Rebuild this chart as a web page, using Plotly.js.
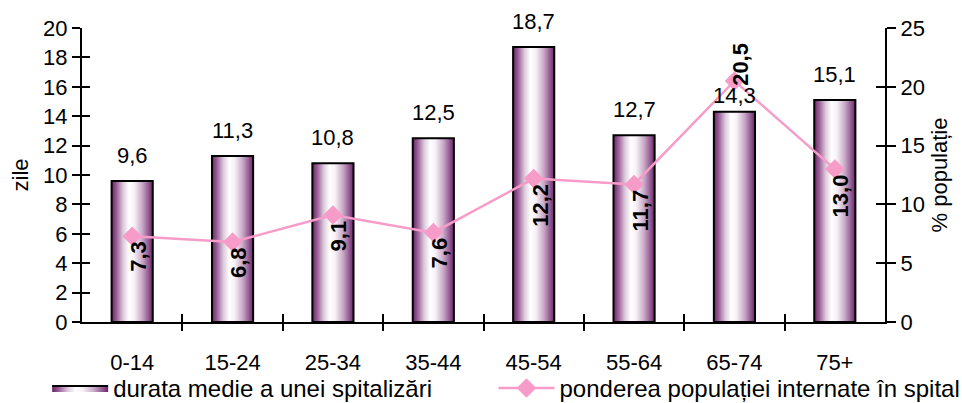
<!DOCTYPE html>
<html>
<head>
<meta charset="utf-8">
<script src="https://cdn.plot.ly/plotly-3.0.1.min.js"></script>
<style>html,body{margin:0;padding:0;background:#fff;}#chart{width:962px;height:403px;}</style>
</head>
<body>
<div id="chart"></div>
<script>
const categories = ["0-14", "15-24", "25-34", "35-44", "45-54", "55-64", "65-74", "75+"];
const durata = [9.6, 11.3, 10.8, 12.5, 18.7, 12.7, 14.3, 15.1];
const pondere = [7.3, 6.8, 9.1, 7.6, 12.2, 11.7, 20.5, 13.0];
const barName = "durata medie a unei spitalizări";
const lineName = "ponderea populației internate în spital";
const leftTicks = [0, 2, 4, 6, 8, 10, 12, 14, 16, 18, 20];
const rightTicks = [0, 5, 10, 15, 20, 25];

const FONT = "Liberation Sans, Arial, sans-serif";
const fmt = v => v.toFixed(1).replace(".", ",");
const idx = categories.map((c, i) => i);
const halfW = 0.205;
const grad = [[0, "#6b2468"], [0.12, "#9a5f97"], [0.28, "#dccbdb"], [0.42, "#ffffff"], [0.55, "#f7f1f7"], [0.75, "#c7a6c5"], [0.9, "#925890"], [1, "#6b2468"]];

const traces = [];
durata.forEach((v, i) => {
  traces.push({
    type: "scatter", mode: "lines",
    x: [i - halfW, i + halfW, i + halfW, i - halfW, i - halfW],
    y: [0, 0, v, v, 0],
    fill: "toself",
    fillgradient: {type: "horizontal", colorscale: grad, start: i - halfW, stop: i + halfW},
    line: {color: "#000", width: 2},
    name: barName, legendgroup: "bars", showlegend: i === 0, legend: "legend",
    hoverinfo: "skip", xaxis: "x", yaxis: "y"
  });
});
traces.push({
  type: "scatter", mode: "lines+markers",
  x: idx, y: pondere, yaxis: "y2", xaxis: "x",
  name: lineName, legend: "legend2",
  line: {color: "#f79cc9", width: 2.5},
  marker: {symbol: "diamond", size: 15, color: "#f79cc9"}
});

const annotations = [];
const barLabelShift = {6: -9};
durata.forEach((v, i) => {
  annotations.push({
    x: i, y: v, xref: "x", yref: "y", text: fmt(v), showarrow: false,
    yanchor: "bottom", yshift: 11 + (barLabelShift[i] || 0),
    font: {family: FONT, size: 22, color: "#000"}
  });
});
const aboveMarker = {6: true};
pondere.forEach((v, i) => {
  annotations.push({
    x: i, y: v, xref: "x", yref: "y2", text: "<b>" + fmt(v) + "</b>", showarrow: false,
    textangle: -90, yanchor: aboveMarker[i] ? "bottom" : "top",
    yshift: aboveMarker[i] ? -7 : -3, xshift: 6,
    font: {family: FONT, size: 22, color: "#000"}
  });
});

const legendCommon = {orientation: "h", xref: "container", yref: "container", y: 0.092, yanchor: "top", xanchor: "left",
  font: {family: FONT, size: 24, color: "#000"}, itemwidth: 56, bgcolor: "rgba(0,0,0,0)"};
const yCommon = {range: [0, 20], tickvals: leftTicks, showgrid: false, zeroline: false, fixedrange: true, automargin: false};
const layout = {
  width: 962, height: 403,
  margin: {l: 82, r: 77, t: 28, b: 81, autoexpand: false},
  paper_bgcolor: "#fff", plot_bgcolor: "#fff",
  font: {family: FONT, size: 22, color: "#000"},
  separators: ", ",
  showlegend: true,
  legend: Object.assign({}, legendCommon, {x: 0.049}),
  legend2: Object.assign({}, legendCommon, {x: 0.513}),
  xaxis: {range: [-0.5, 7.5], tickvals: idx, ticktext: categories, ticks: "outside", ticklen: 20,
          tickcolor: "rgba(0,0,0,0)", showline: true, linecolor: "#000", linewidth: 2, automargin: false,
          showgrid: false, zeroline: false, fixedrange: true},
  xaxis2: {overlaying: "x", anchor: "y", side: "bottom", range: [-0.5, 7.5], automargin: false,
           tickvals: idx.slice(1).map(i => i - 0.5), ticks: "outside", ticklen: 8, tickwidth: 2,
           tickcolor: "#000", showticklabels: false, showline: false, showgrid: false, zeroline: false},
  xaxis3: {overlaying: "x", anchor: "y", side: "bottom", range: [-0.5, 7.5], automargin: false,
           tickvals: idx.slice(1).map(i => i - 0.5), ticks: "inside", ticklen: 8, tickwidth: 2,
           tickcolor: "#000", showticklabels: false, showline: false, showgrid: false, zeroline: false},
  yaxis: Object.assign({}, yCommon, {ticks: "outside", ticklen: 8, tickwidth: 2, tickcolor: "#000",
          showline: true, linecolor: "#000", linewidth: 2, anchor: "x",
          title: {text: "zile", font: {family: FONT, size: 22}, standoff: 8}}),
  yaxis3: Object.assign({}, yCommon, {overlaying: "y", side: "left", anchor: "x", ticks: "inside", ticklen: 8,
          tickwidth: 2, tickcolor: "#000", showticklabels: false, showline: false}),
  yaxis2: {range: [0, 25], tickvals: rightTicks, overlaying: "y", side: "right", anchor: "x", automargin: false,
           ticks: "outside", ticklen: 9, tickwidth: 2, tickcolor: "#000",
           showline: true, linecolor: "#000", linewidth: 2, showgrid: false, zeroline: false,
           title: {text: "% populație", font: {family: FONT, size: 22}, standoff: 8}},
  yaxis4: {range: [0, 25], tickvals: rightTicks, overlaying: "y", side: "right", anchor: "x", automargin: false,
           ticks: "inside", ticklen: 9, tickwidth: 2, tickcolor: "#000", showticklabels: false,
           showline: false, showgrid: false, zeroline: false},
  annotations: annotations
};
traces.push({type: "scatter", x: [null], y: [null], xaxis: "x2", yaxis: "y3", showlegend: false, hoverinfo: "skip"});
traces.push({type: "scatter", x: [null], y: [null], xaxis: "x3", yaxis: "y4", showlegend: false, hoverinfo: "skip"});

Plotly.newPlot("chart", traces, layout, {displayModeBar: false, staticPlot: true});
</script>
</body>
</html>
